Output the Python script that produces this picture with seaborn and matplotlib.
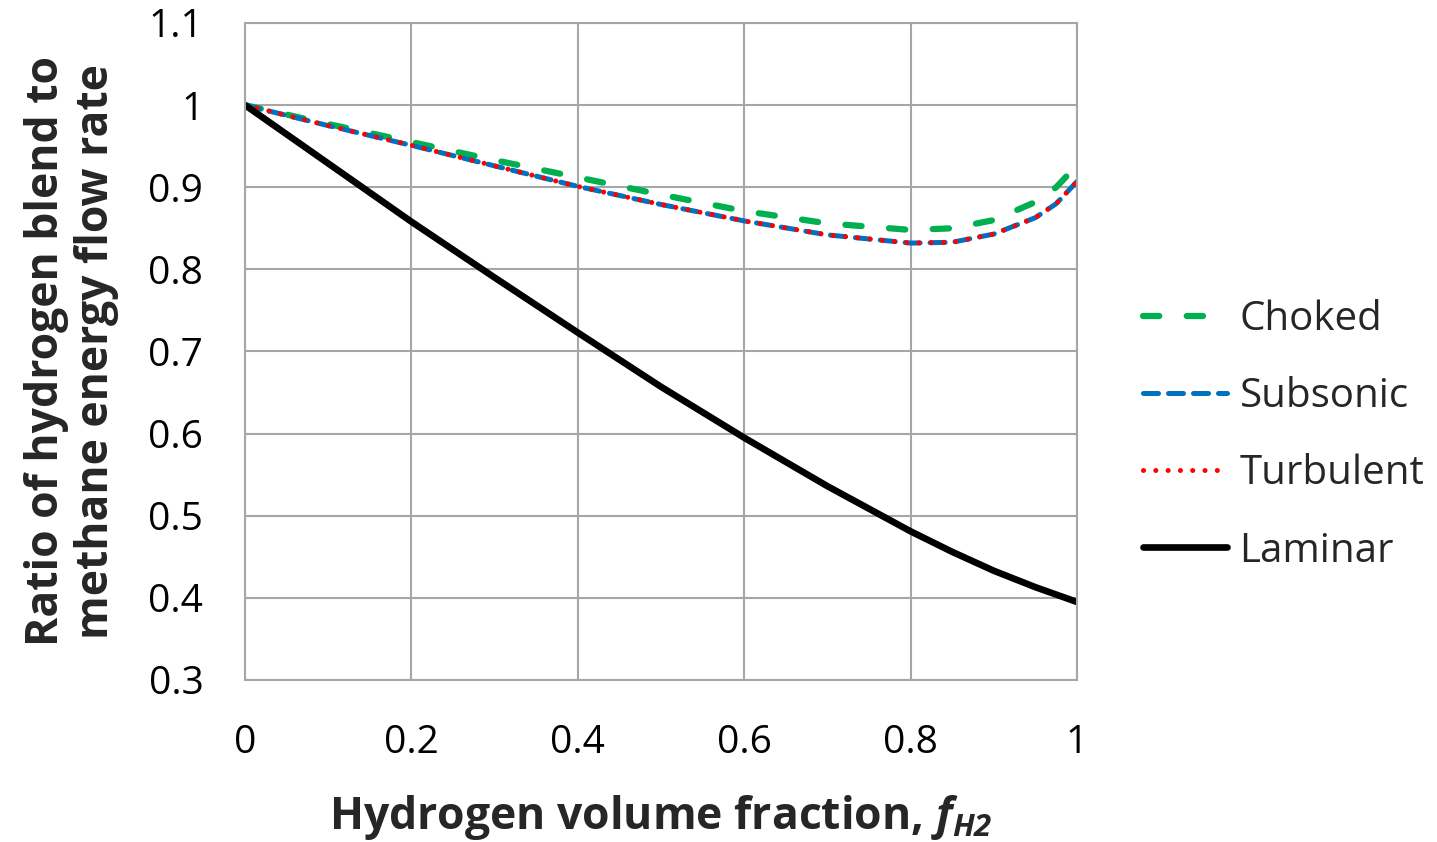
import matplotlib
matplotlib.use("Agg")
import matplotlib.pyplot as plt
import seaborn as sns
import pandas as pd

x_frac = [0.0, 0.1, 0.2, 0.3, 0.4, 0.5, 0.6, 0.7, 0.8, 0.85, 0.9, 0.95, 0.975, 1.0]
choked = [1.0, 0.977, 0.955, 0.933, 0.912, 0.891, 0.871, 0.856, 0.848, 0.850, 0.860, 0.882, 0.900, 0.927]
subsonic = [1.0, 0.975, 0.951, 0.926, 0.901, 0.879, 0.859, 0.842, 0.832, 0.833, 0.843, 0.863, 0.880, 0.907]
turbulent = [1.0, 0.975, 0.951, 0.926, 0.901, 0.879, 0.859, 0.842, 0.832, 0.833, 0.843, 0.863, 0.880, 0.907]
laminar = [1.0, 0.929, 0.858, 0.790, 0.723, 0.657, 0.595, 0.536, 0.481, 0.456, 0.433, 0.413, 0.404, 0.395]

series_names = ["Choked", "Subsonic", "Turbulent", "Laminar"]
x_ticks = [0, 0.2, 0.4, 0.6, 0.8, 1]
x_tick_labels = ["0", "0.2", "0.4", "0.6", "0.8", "1"]
y_ticks = [0.3, 0.4, 0.5, 0.6, 0.7, 0.8, 0.9, 1.0, 1.1]
y_tick_labels = ["0.3", "0.4", "0.5", "0.6", "0.7", "0.8", "0.9", "1", "1.1"]

sns.set_theme(style="white")
plt.rcParams['font.family'] = ['Open Sans', 'DejaVu Sans']
plt.rcParams['mathtext.fontset'] = 'custom'
plt.rcParams['mathtext.rm'] = 'Open Sans'
plt.rcParams['mathtext.it'] = 'Open Sans:italic'
plt.rcParams['mathtext.bf'] = 'Open Sans:bold'
try:
    plt.rcParams['mathtext.bfit'] = 'Open Sans:bold:italic'
except KeyError:
    pass

fig = plt.figure(figsize=(14.37, 8.42), dpi=100)
ax = fig.add_axes([0.1705, 0.1924, 0.5790, 0.7803])

styles = {
    "Choked": dict(color="#00B050", linestyle=(0, (2.6, 4.4)), linewidth=4.5, dash_capstyle="round"),
    "Subsonic": dict(color="#0070C0", linestyle=(0, (3.0, 2.0)), linewidth=3.6, dash_capstyle="round"),
    "Turbulent": dict(color="#FF0000", linestyle=(0, (0.01, 2.45)), linewidth=3.6, dash_capstyle="round"),
    "Laminar": dict(color="#000000", linestyle="-", linewidth=4.8),
}
data = {"Choked": choked, "Subsonic": subsonic, "Turbulent": turbulent, "Laminar": laminar}

for name in series_names:
    df = pd.DataFrame({"x": x_frac, "y": data[name]})
    sns.lineplot(data=df, x="x", y="y", ax=ax, label=name, **styles[name])

ax.set_xlim(0, 1)
ax.set_ylim(0.3, 1.1)
ax.set_xticks(x_ticks)
ax.set_xticklabels(x_tick_labels, fontsize=28)
ax.set_yticks(y_ticks)
ax.set_yticklabels(y_tick_labels, fontsize=28)
ax.grid(True, color="#A6A6A6", linewidth=1.5)
for sp in ax.spines.values():
    sp.set_color("#A6A6A6")
    sp.set_linewidth(1.5)
ax.tick_params(axis="both", direction="out", length=10, width=1.5, color="#A6A6A6", labelcolor="black")
ax.tick_params(axis="y", pad=20)
ax.tick_params(axis="x", pad=22)

ax.set_xlabel(r"Hydrogen volume fraction, $\mathbfit{f}_{\mathbfit{H2}}$", fontsize=32, fontweight="bold", labelpad=22)
ax.set_ylabel("Ratio of hydrogen blend to\nmethane energy flow rate", fontsize=32, fontweight="bold", labelpad=21, linespacing=1.15)

leg = ax.legend(loc="center left", bbox_to_anchor=(1.079, 0.372), frameon=False, fontsize=29,
                handlelength=2.1, handletextpad=0.3, labelspacing=0.91, borderpad=0, borderaxespad=0)

fig.savefig("out.png", dpi=100)
